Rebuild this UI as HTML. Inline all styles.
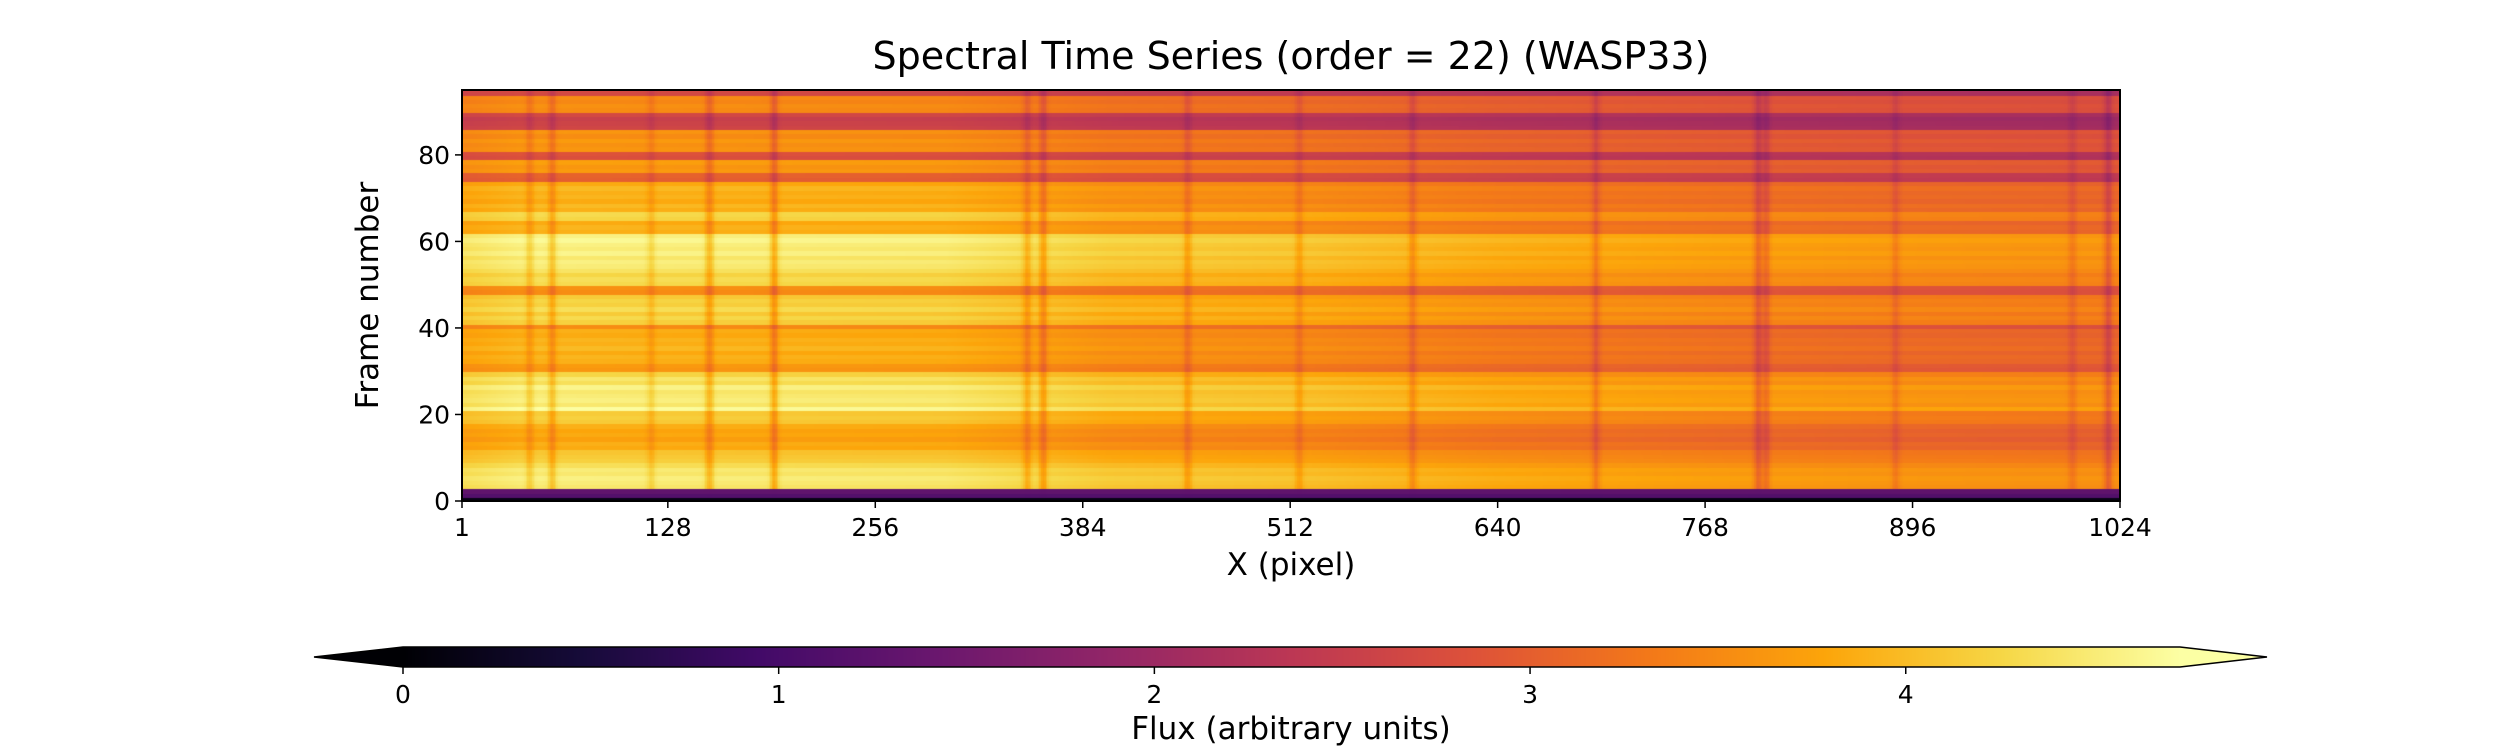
<!DOCTYPE html>
<html><head><meta charset="utf-8">
<style>
html,body{margin:0;padding:0;background:#fff;}
#wrap{position:relative;width:2520px;height:750px;overflow:hidden;font-family:"DejaVu Sans","Liberation Sans",sans-serif;}
canvas{position:absolute;}
svg{position:absolute;left:0;top:0;}
</style></head>
<body>
<div id="wrap">
<canvas id="hm" width="1658" height="411" style="left:462px;top:90px;"></canvas>
<canvas id="cb" width="1777" height="20" style="left:403px;top:647px;"></canvas>
<svg id="ax" width="2520" height="750"></svg>
</div>
<script>
// ---- data ----
const xTicks = [1,128,256,384,512,640,768,896,1024];
const yTicks = [0,20,40,60,80];
const cbTicks = [0,1,2,3,4];
const nFrames = 95;
// per-frame flux level (frames 0..94)
const rowLevels = [0.15,1.15,1.3,4.3,4.35,4.4,4.3,4.35,4.2,4.05,4.0,3.95,3.7,3.75,3.6,3.7,3.65,3.75,4.0,4.05,4.0,4.55,4.3,4.4,4.35,4.3,4.45,4.2,4.3,4.1,3.5,3.55,3.75,3.8,3.7,3.85,3.75,3.8,3.7,3.75,3.4,4.05,4.15,4.0,4.2,4.05,4.1,4.0,3.4,3.45,4.15,4.2,4.1,4.25,4.35,4.4,4.3,4.45,4.35,4.4,4.5,4.4,3.75,3.8,3.7,4.1,4.15,3.75,3.85,3.7,3.8,3.75,3.85,3.7,2.9,2.95,3.55,3.5,3.6,2.7,2.75,3.5,3.45,3.55,3.4,3.5,2.55,2.5,2.45,2.6,3.4,3.45,3.35,3.4,2.6];
// continuum profile along x (pixel, factor)
const contPix = [1,40,150,300,400,512,640,780,900,1024];
const contFac = [1.0,1.04,1.03,1.02,0.95,0.93,0.88,0.85,0.83,0.82];
// absorption lines (pixel, fractional depth)
const linePix = [43,57,118,154,194,350,360,449,518,588,701,801,806,886,995,1017];
const lineDepth = [0.08,0.1,0.06,0.12,0.14,0.1,0.13,0.1,0.08,0.1,0.12,0.15,0.12,0.08,0.08,0.15];
const cbMin = 0, cbMax = 4.73;

// ---- scales ----
const PL=462, PR=2120, PT=90, PB=501;
const xs = p => PL + (p-1)/1023*(PR-PL);
const ys = f => PB - f/nFrames*(PB-PT);
const CBL=403, CBR=2180;
const cs = v => CBL + (v-cbMin)/(cbMax-cbMin)*(CBR-CBL);

const stops=[[0,0,4],[22,11,57],[66,10,104],[106,23,110],[147,38,103],[188,55,84],[221,81,58],[243,120,25],[252,165,10],[246,215,70],[252,255,164]];
function cmap(v){
  let t=(v-cbMin)/(cbMax-cbMin); t=Math.max(0,Math.min(1,t));
  const s=t*10, i=Math.min(9,Math.floor(s)), f=s-i, a=stops[i], b=stops[i+1];
  return 'rgb('+Math.round(a[0]+(b[0]-a[0])*f)+','+Math.round(a[1]+(b[1]-a[1])*f)+','+Math.round(a[2]+(b[2]-a[2])*f)+')';
}
function cont(p){
  for(let i=0;i<contPix.length-1;i++){
    if(p<=contPix[i+1]){const f=(p-contPix[i])/(contPix[i+1]-contPix[i]);return contFac[i]+(contFac[i+1]-contFac[i])*f;}
  }
  return contFac[contFac.length-1];
}
function lineF(p){
  let m=1;
  for(let i=0;i<linePix.length;i++){const d=(p-linePix[i])/2.5;m*=1-lineDepth[i]*Math.exp(-d*d);}
  return m;
}
// ---- heatmap ----
const hm=document.getElementById('hm').getContext('2d');
const colF=[];
for(let p=1;p<=1024;p++) colF.push(cont(p)*lineF(p));
for(let r=0;r<nFrames;r++){
  const y0=ys(r+1)-PT, y1=ys(r)-PT;
  for(let p=1;p<=1024;p++){
    const x0=xs(p-0.5)-PL, x1=xs(p+0.5)-PL;
    const v = r<3 ? rowLevels[r]*(0.95+0.05*colF[p-1]) : rowLevels[r]*colF[p-1];
    hm.fillStyle=cmap(v);
    hm.fillRect(Math.floor(x0),Math.floor(y0),Math.ceil(x1-x0)+1,Math.ceil(y1-y0)+1);
  }
}
// ---- colorbar ----
const cb=document.getElementById('cb').getContext('2d');
for(let x=0;x<CBR-CBL;x++){cb.fillStyle=cmap(cbMin+(x+0.5)/(CBR-CBL)*(cbMax-cbMin));cb.fillRect(x,0,1,20);}

// ---- axes ----
const svg=document.getElementById('ax');
const NS='http://www.w3.org/2000/svg';
function mk(tag,attrs,text){const e=document.createElementNS(NS,tag);for(const k in attrs)e.setAttribute(k,attrs[k]);if(text!==undefined)e.textContent=text;svg.appendChild(e);return e;}
let e;
e=mk('rect',{x:PL,y:PT,width:PR-PL,height:PB-PT,fill:'none',stroke:'#000','stroke-width':2});


xTicks.forEach(t=>{
  const x=xs(t);
  e=mk('line',{x1:x,x2:x,y1:PB,y2:PB+7,stroke:'#000','stroke-width':1.5});
  
  
  e=mk('text',{x:x,y:PB+35,'text-anchor':'middle','font-size':25,fill:'#000'},String(t));
  
  
});
yTicks.forEach(t=>{
  const y=ys(t);
  e=mk('line',{x1:PL-7,x2:PL,y1:y,y2:y,stroke:'#000','stroke-width':1.5});
  
  
  e=mk('text',{x:PL-12,y:y+9,'text-anchor':'end','font-size':25,fill:'#000'},String(t));
  
  
});
e=mk('text',{x:(PL+PR)/2,y:69,'text-anchor':'middle','font-size':38,fill:'#000'},'Spectral Time Series (order = 22) (WASP33)');


e=mk('text',{x:(PL+PR)/2,y:575,'text-anchor':'middle','font-size':31,fill:'#000'},'X (pixel)');


e=mk('text',{x:378,y:(PT+PB)/2,'text-anchor':'middle','font-size':31,fill:'#000',transform:'rotate(-90 378 '+((PT+PB)/2)+')'},'Frame number');


// colorbar extensions and outline
e=mk('polygon',{points:CBL+',647 314,657 '+CBL+',667',fill:cmap(cbMin)});


e=mk('polygon',{points:CBR+',647 2267,657 '+CBR+',667',fill:cmap(cbMax)});


e=mk('polygon',{points:CBL+',647 '+CBR+',647 2267,657 '+CBR+',667 '+CBL+',667 314,657',fill:'none',stroke:'#000','stroke-width':1.5});


cbTicks.forEach(t=>{
  const x=cs(t);
  e=mk('line',{x1:x,x2:x,y1:667,y2:674,stroke:'#000','stroke-width':1.5});
  
  
  e=mk('text',{x:x,y:703,'text-anchor':'middle','font-size':25,fill:'#000'},String(t));
  
  
});
e=mk('text',{x:1291,y:739,'text-anchor':'middle','font-size':31,fill:'#000'},'Flux (arbitrary units)');


</script>
</body></html>
